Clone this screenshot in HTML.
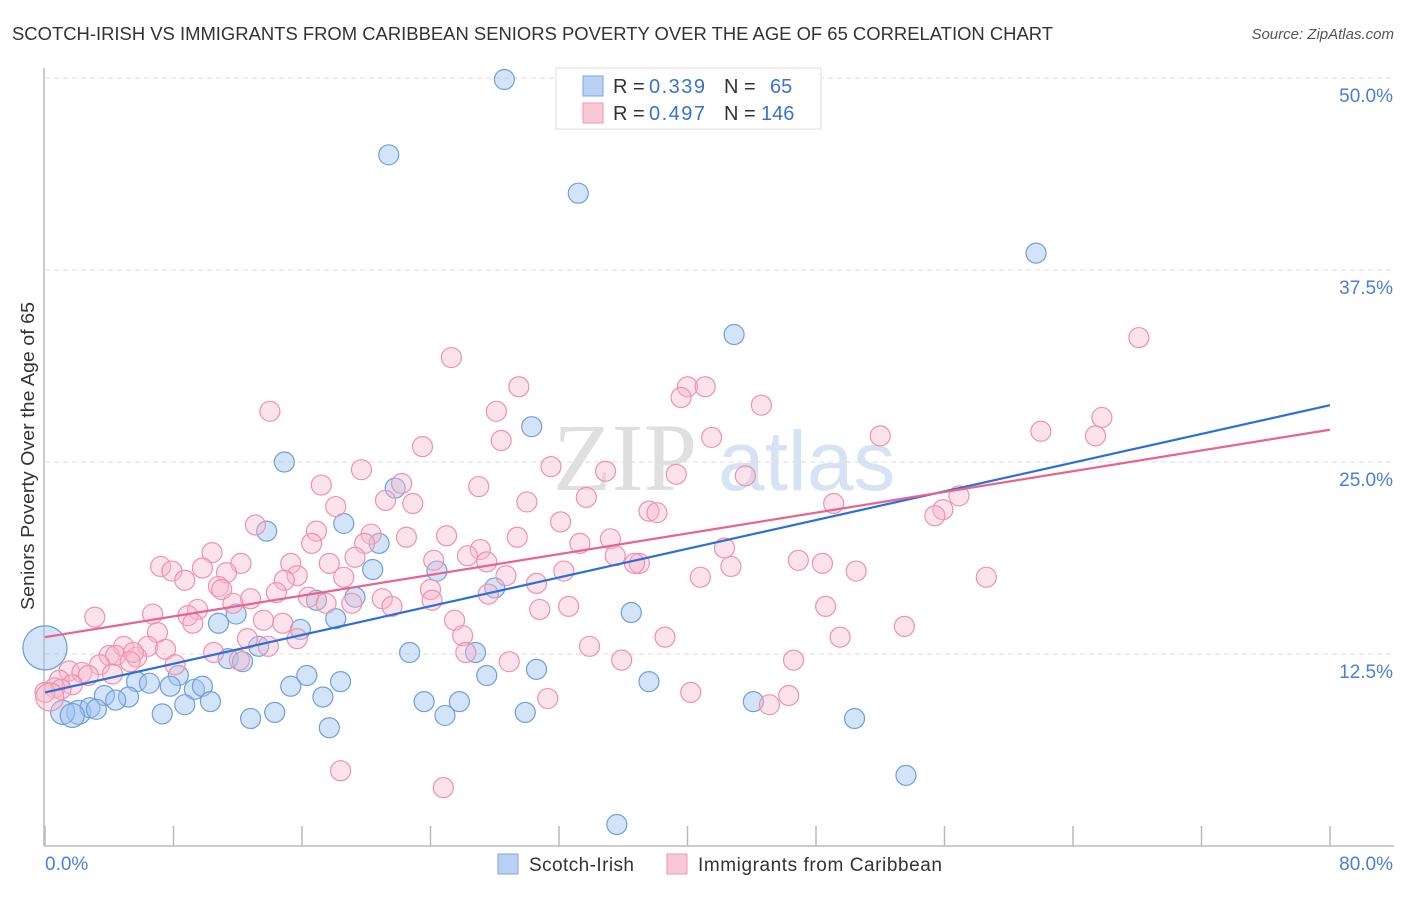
<!DOCTYPE html>
<html><head><meta charset="utf-8"><style>
body{margin:0;background:#fff;font-family:"Liberation Sans",sans-serif}
svg text{font-family:"Liberation Sans",sans-serif}
</style></head><body>
<svg id="chart" width="1406" height="892" xmlns="http://www.w3.org/2000/svg">
<text x="12" y="40" font-size="18" fill="#333" textLength="1041" lengthAdjust="spacingAndGlyphs">SCOTCH-IRISH VS IMMIGRANTS FROM CARIBBEAN SENIORS POVERTY OVER THE AGE OF 65 CORRELATION CHART</text>
<text x="1394" y="39" font-size="15" fill="#555" font-style="italic" text-anchor="end">Source: ZipAtlas.com</text>
<g>
<text x="553" y="490" font-size="96" fill="#d8d8d8" opacity="0.8" font-family="Liberation Serif, serif" style="font-family:'Liberation Serif',serif">ZIP</text>
<text x="718" y="490" font-size="84" fill="#c5d8f2" opacity="0.7">atlas</text>
</g>
<g id="grid"></g>
<g id="axes"></g>
<g id="marks"></g>
<text transform="translate(34,456) rotate(-90)" font-size="18" fill="#333" text-anchor="middle" textLength="308" lengthAdjust="spacingAndGlyphs">Seniors Poverty Over the Age of 65</text>
<g>
<rect x="556" y="68" width="265" height="61" fill="#fff" stroke="#ddd"/>
<rect x="583" y="76" width="20" height="20" fill="#b9d2f3" stroke="#7aa6e0"/>
<rect x="583" y="103" width="20" height="20" fill="#f9c8d6" stroke="#ee97b1"/>
<text x="613" y="93" font-size="20" fill="#333">R =</text>
<text x="649" y="93" font-size="20" fill="#3a72d0" textLength="56">0.339</text>
<text x="724" y="93" font-size="20" fill="#333">N =</text>
<text x="770" y="93" font-size="20" fill="#3a72d0">65</text>
<text x="613" y="120" font-size="20" fill="#333">R =</text>
<text x="649" y="120" font-size="20" fill="#3a72d0" textLength="56">0.497</text>
<text x="724" y="120" font-size="20" fill="#333">N =</text>
<text x="761" y="120" font-size="20" fill="#3a72d0">146</text>
</g>
<g>
<rect x="498" y="854" width="20" height="20" fill="#b9d2f3" stroke="#7aa6e0"/>
<text x="529" y="871" font-size="19" fill="#333" textLength="105">Scotch-Irish</text>
<rect x="667" y="854" width="20" height="20" fill="#f9c8d6" stroke="#ee97b1"/>
<text x="698" y="871" font-size="19" fill="#333" textLength="244">Immigrants from Caribbean</text>
</g>
</svg>
<script>
const yTicks=[12.5,25.0,37.5,50.0];
const yTickLabels=["12.5%","25.0%","37.5%","50.0%"];
const xTickLabels=["0.0%","80.0%"];
const blueX=[28.6,21.4,33.2,61.7,42.9,30.3,14.9,21.8,18.6,13.8,20.8,20.4,24.4,28.0,16.9,19.3,11.9,36.5,10.8,18.1,15.9,13.3,22.7,26.8,11.4,12.3,16.3,30.6,27.5,8.3,5.7,6.5,7.8,9.3,9.8,15.3,18.4,37.6,3.7,5.2,17.3,4.4,8.7,10.3,23.6,25.8,44.1,2.1,2.8,3.2,1.1,1.7,7.3,12.8,14.3,24.9,29.9,50.4,17.7,53.6,35.6,0.0];
const blueY=[49.9,45.0,42.5,38.6,33.3,27.3,25.0,23.3,21.0,20.5,19.7,18.0,17.9,16.8,16.0,16.2,15.1,15.2,14.5,14.8,14.1,13.0,12.6,12.6,12.2,12.0,11.1,11.5,11.1,11.1,10.7,10.6,10.4,10.2,10.4,10.4,10.7,10.7,9.8,9.7,9.7,9.5,9.2,9.4,9.4,9.4,9.4,8.7,9.0,8.9,8.7,8.5,8.6,8.3,8.7,8.5,8.7,8.3,7.7,4.6,1.4,12.9];
const blueR=[10,10,10,10,10,10,10,10,10,10,10,10,10,10,10,10,10,10,10,10,10,10,10,10,10,10,10,10,10,10,10,10,10,10,10,10,10,10,10,10,10,10,10,10,10,10,10,12,10,10,12,12,10,10,10,10,10,10,10,10,10,22];
const pinkX=[68.1,25.3,29.5,40.0,41.1,39.6,44.6,28.1,14.0,65.8,62.0,65.4,52.0,41.5,28.4,23.5,31.5,19.7,34.9,39.3,43.6,27.0,17.2,22.2,21.2,22.9,30.0,33.7,18.1,56.9,49.1,55.9,55.4,37.6,38.1,13.1,16.9,25.0,32.1,20.3,29.4,22.5,35.2,33.3,16.6,19.9,27.1,10.4,42.3,19.3,26.3,24.2,35.5,27.5,7.2,12.2,15.3,17.7,37.0,46.9,48.4,7.9,9.8,11.3,50.5,42.7,8.7,28.7,18.6,15.7,14.9,32.3,40.8,58.6,36.7,10.8,11.0,14.4,24.0,30.6,27.6,12.8,16.4,21.0,21.6,24.1,17.5,19.1,11.7,9.5,6.7,32.6,30.8,48.6,3.1,8.9,9.2,13.6,25.5,14.8,7.0,53.5,26.0,38.6,49.5,12.6,15.7,13.9,4.9,6.4,7.5,10.5,4.0,4.4,5.7,5.5,33.9,26.2,5.3,8.1,12.1,28.9,35.9,46.6,3.4,1.5,2.3,2.7,4.2,0.9,1.7,0.6,1.0,0.0,40.2,46.3,31.3,45.1,18.4,24.8,0.3];
const pinkY=[33.1,31.8,29.9,29.9,29.9,29.2,28.7,28.3,28.3,27.9,27.0,26.7,26.7,26.6,26.4,26.0,24.7,24.5,24.4,24.2,24.1,23.4,23.5,23.6,22.5,22.3,22.4,22.7,22.1,22.8,22.3,21.9,21.5,21.8,21.7,20.9,20.5,20.2,21.1,20.3,20.1,20.1,20.0,19.7,19.7,19.7,19.3,19.1,19.4,18.8,18.9,18.6,18.9,18.5,18.2,18.4,18.4,18.4,18.4,18.6,18.4,17.9,18.1,17.8,17.9,18.2,17.3,17.6,17.5,17.6,17.3,17.9,17.5,17.5,18.4,16.9,16.7,16.5,16.7,17.1,16.4,16.1,16.2,16.1,15.6,16.0,15.8,15.8,15.8,15.4,15.1,15.6,15.4,15.6,14.9,15.0,14.5,14.7,14.7,14.5,13.9,14.3,13.7,13.6,13.6,13.5,13.5,13.0,13.0,13.0,12.8,12.6,12.4,12.4,12.3,12.6,13.0,12.6,12.0,11.8,12.1,12.0,12.1,12.1,11.8,11.4,11.3,11.1,11.2,10.8,10.5,10.3,10.2,10.0,10.0,9.8,9.6,9.2,4.9,3.8,9.7];
const blueTrend=[10.0,28.7];
const pinkTrend=[13.6,27.1];
const xDomain=[0,80];

const NS="http://www.w3.org/2000/svg";
const L=45,R=1330,T=78,B=846;
function sx(v){return L+(v-xDomain[0])/(xDomain[1]-xDomain[0])*(R-L);}
function sy(v){return B-v/50*(B-T);}
function mk(tag,attrs,parent){const e=document.createElementNS(NS,tag);for(const k in attrs)e.setAttribute(k,attrs[k]);parent.appendChild(e);return e;}
const grid=document.getElementById('grid'),axes=document.getElementById('axes'),marks=document.getElementById('marks');
yTicks.forEach((t,i)=>{
  const g=mk('line',{x1:L,x2:1394,y1:sy(t),y2:sy(t),stroke:'#ddd','stroke-dasharray':'5,4'},grid);
  
  
  const tx=mk('text',{x:1393,y:sy(t)+24,'font-size':19,fill:'#4a7fd4','text-anchor':'end'},axes);
  tx.textContent=yTickLabels[i];
  
  
});
const ya=mk('line',{x1:L-1,x2:L-1,y1:68,y2:B,stroke:'#bbb','stroke-width':1.5},axes);


const xa=mk('line',{x1:L-1,x2:1394,y1:B,y2:B,stroke:'#bbb','stroke-width':1.5},axes);


for(let i=0;i<=10;i++){
  const v=xDomain[0]+i*8;
  const tk=mk('line',{x1:sx(v),x2:sx(v),y1:826,y2:B,stroke:'#bbb','stroke-width':1.5},axes);
  
  
}
const xl0=mk('text',{x:L,y:870,'font-size':19,fill:'#4a7fd4'},axes);xl0.textContent=xTickLabels[0];


const xl1=mk('text',{x:1393,y:870,'font-size':19,fill:'#4a7fd4','text-anchor':'end'},axes);xl1.textContent=xTickLabels[1];


blueX.forEach((x,i)=>{
  const c=mk('circle',{cx:sx(x),cy:sy(blueY[i]),r:blueR[i],fill:'rgba(160,196,240,0.45)',stroke:'#6f9fdc','stroke-width':1.2},marks);
  
  
});
pinkX.forEach((x,i)=>{
  const c=mk('circle',{cx:sx(x),cy:sy(pinkY[i]),r:i==pinkX.length-1?14:10,fill:'rgba(248,182,202,0.4)',stroke:'#ef91ae','stroke-width':1.2},marks);
  
  
});
const bl=mk('line',{x1:sx(xDomain[0]),x2:sx(xDomain[1]),y1:sy(blueTrend[0]),y2:sy(blueTrend[1]),stroke:'#2d6fd8','stroke-width':2.2},marks);


const pl=mk('line',{x1:sx(xDomain[0]),x2:sx(xDomain[1]),y1:sy(pinkTrend[0]),y2:sy(pinkTrend[1]),stroke:'#e8638f','stroke-width':2.2},marks);


</script>
</body></html>
